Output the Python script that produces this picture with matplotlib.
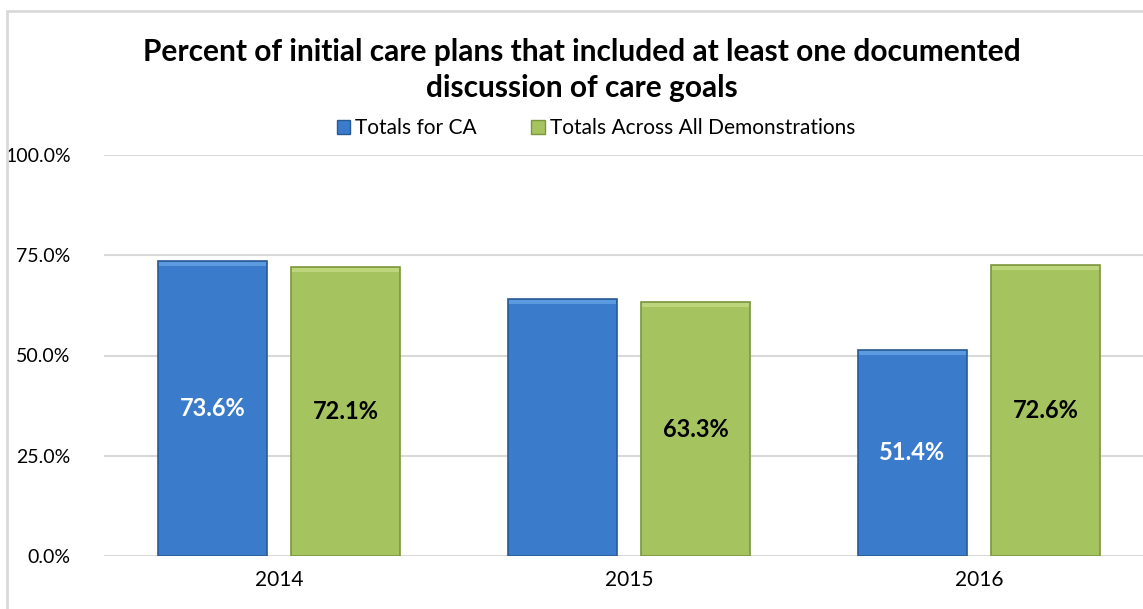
import matplotlib
matplotlib.use("Agg")
import matplotlib.pyplot as plt
from matplotlib.patches import Rectangle
import numpy as np

plt.rcParams['font.family'] = ['Lato', 'DejaVu Sans']

years = ["2014", "2015", "2016"]
ca_values = [73.6, 64.1, 51.4]
all_values = [72.1, 63.3, 72.6]
ca_labels = ["73.6%", "", "51.4%"]
all_labels = ["72.1%", "63.3%", "72.6%"]
series_names = ["Totals for CA", "Totals Across All Demonstrations"]
yticks = [0, 25, 50, 75, 100]

W, H = 1143, 609
fig = plt.figure(figsize=(W / 100, H / 100), dpi=100)
fig.patch.set_facecolor("white")

# outer chart border
border = Rectangle((7 / W, -0.05), 1.2, (H - 11) / H + 0.05, transform=fig.transFigure,
                   fill=False, edgecolor="#D9D9D9", linewidth=2)
fig.patches.append(border)

left = 104 / W
right_px = 1154
bottom = (H - 556) / H
top = (H - 155) / H
ax = fig.add_axes([left, bottom, (right_px - 104) / W, top - bottom])
ax.set_xlim(-0.5, 2.5)
ax.set_ylim(0, 100)

x = np.arange(len(years))
bw = 0.314
off = 0.19
blue = "#3A7CCB"
blue_edge = "#2A5A94"
green = "#A5C460"
green_edge = "#7B963E"

b1 = ax.bar(x - off, ca_values, bw, color=blue, edgecolor=blue_edge, linewidth=1.2, zorder=3)
b2 = ax.bar(x + off, all_values, bw, color=green, edgecolor=green_edge, linewidth=1.2, zorder=3)

# bevel highlights (top strip) derived from bar geometry
for bars, hl in ((b1, "#5C9BE0"), (b2, "#BDD67C")):
    for r in bars:
        h = r.get_height()
        ax.add_patch(Rectangle((r.get_x() + 0.004, h - 1.3), r.get_width() - 0.008, 1.1,
                               facecolor=hl, edgecolor="none", zorder=4))

for r, lab in zip(b1, ca_labels):
    if lab:
        ax.text(r.get_x() + r.get_width() / 2, r.get_height() / 2, lab, ha="center", va="center",
                color="white", fontsize=17, fontweight="bold", zorder=5)
for r, lab in zip(b2, all_labels):
    if lab:
        ax.text(r.get_x() + r.get_width() / 2, r.get_height() / 2, lab, ha="center", va="center",
                color="black", fontsize=17, fontweight="bold", zorder=5)

ax.set_yticks(yticks)
ax.set_yticklabels([f"{v:.1f}%" for v in yticks], fontsize=14)
ax.set_xticks(x)
ax.set_xticklabels(years, fontsize=15)
ax.tick_params(axis="both", length=0, colors="#000000")
ax.tick_params(axis="y", pad=24)
ax.tick_params(axis="x", pad=10)
ax.yaxis.grid(True, color="#D9D9D9", linewidth=1.5, zorder=0)
ax.set_axisbelow(True)
for s in ax.spines.values():
    s.set_visible(False)
ax.patch.set_alpha(0)

fig.text(582 / W, 1 - 70 / H,
         "Percent of initial care plans that included at least one documented\ndiscussion of care goals",
         ha="center", va="center", fontsize=21.5, fontweight="bold", linespacing=1.35)

handles = [Rectangle((0, 0), 1, 1, facecolor=blue, edgecolor=blue_edge),
           Rectangle((0, 0), 1, 1, facecolor=green, edgecolor=green_edge)]
fig.legend(handles, series_names, loc="center", bbox_to_anchor=(596 / W, 1 - 128 / H), ncol=2,
           frameon=False, fontsize=15, handlelength=0.65, handleheight=0.65, handletextpad=0.25,
           columnspacing=2.6, borderaxespad=0)

fig.savefig("out.png", dpi=100, facecolor="white")
